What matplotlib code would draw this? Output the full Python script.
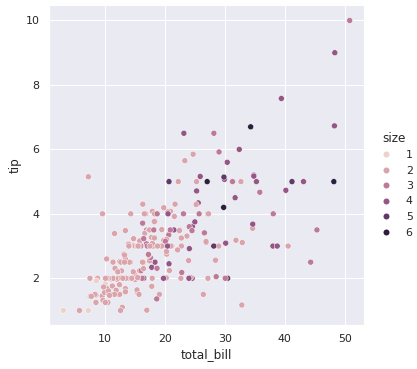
import matplotlib
matplotlib.use("Agg")
import matplotlib.pyplot as plt
import pandas as pd
import seaborn as sns

# tips data: total bill, tip and party size
total_bill = [
    16.99, 10.34, 21.01, 23.68, 24.59, 25.29, 8.77, 26.88, 15.04, 14.78,
    10.27, 35.26, 15.42, 18.43, 14.83, 21.58, 10.33, 16.29, 16.97, 20.65,
    17.92, 20.29, 15.77, 39.42, 19.82, 17.81, 13.37, 12.69, 21.70, 19.65,
    9.55, 18.35, 15.06, 20.69, 17.78, 24.06, 16.31, 16.93, 18.69, 31.27,
    16.04, 17.46, 13.94, 9.68, 30.40, 18.29, 22.23, 32.40, 28.55, 18.04,
    12.54, 10.29, 34.81, 9.94, 25.56, 19.49, 38.01, 26.41, 11.24, 48.27,
    20.29, 13.81, 11.02, 18.29, 17.59, 20.08, 16.45, 3.07, 20.23, 15.01,
    12.02, 17.07, 26.86, 25.28, 14.73, 10.51, 17.92, 27.20, 22.76, 17.29,
    19.44, 16.66, 10.07, 32.68, 15.98, 34.83, 13.03, 18.28, 24.71, 21.16,
    28.97, 22.49, 5.75, 16.32, 22.75, 40.17, 27.28, 12.03, 21.01, 12.46,
    11.35, 15.38, 44.30, 22.42, 20.92, 15.36, 20.49, 25.21, 18.24, 14.31,
    14.00, 7.25, 38.07, 23.95, 25.71, 17.31, 29.93, 10.65, 12.43, 24.08,
    11.69, 13.42, 14.26, 15.95, 12.48, 29.80, 8.52, 14.52, 11.38, 22.82,
    19.08, 20.27, 11.17, 12.26, 18.26, 8.51, 10.33, 14.15, 16.00, 13.16,
    17.47, 34.30, 41.19, 27.05, 16.43, 8.35, 18.64, 11.87, 9.78, 7.51,
    14.07, 13.13, 17.26, 24.55, 19.77, 29.85, 48.17, 25.00, 13.39, 16.49,
    21.50, 12.66, 16.21, 13.81, 17.51, 24.52, 20.76, 31.71, 10.59, 10.63,
    50.81, 15.81, 7.25, 31.85, 16.82, 32.90, 17.89, 14.48, 9.60, 34.63,
    34.65, 23.33, 45.35, 23.17, 40.55, 20.69, 20.90, 30.46, 18.15, 23.10,
    15.69, 19.81, 28.44, 15.48, 16.58, 7.56, 10.34, 43.11, 13.00, 13.51,
    18.71, 12.74, 13.00, 16.40, 20.53, 16.47, 26.59, 38.73, 24.27, 12.76,
    30.06, 25.89, 48.33, 13.27, 28.17, 12.90, 28.15, 11.59, 7.74, 30.14,
    12.16, 13.42, 8.58, 15.98, 13.42, 16.27, 10.09, 20.45, 13.28, 22.12,
    24.01, 15.69, 11.61, 10.77, 15.53, 10.07, 12.60, 32.83, 35.83, 29.03,
    27.18, 22.67, 17.82, 18.78,
]
tip = [
    1.01, 1.66, 3.50, 3.31, 3.61, 4.71, 2.00, 3.12, 1.96, 3.23,
    1.71, 5.00, 1.57, 3.00, 3.02, 3.92, 1.67, 3.71, 3.50, 3.35,
    4.08, 2.75, 2.23, 7.58, 3.18, 2.34, 2.00, 2.00, 4.30, 3.00,
    1.45, 2.50, 3.00, 2.45, 3.27, 3.60, 2.00, 3.07, 2.31, 5.00,
    2.24, 2.54, 3.06, 1.32, 5.60, 3.00, 5.00, 6.00, 2.05, 3.00,
    2.50, 2.60, 5.20, 1.56, 4.34, 3.51, 3.00, 1.50, 1.76, 6.73,
    3.21, 2.00, 1.98, 3.76, 2.64, 3.15, 2.47, 1.00, 2.01, 2.09,
    1.97, 3.00, 3.14, 5.00, 2.20, 1.25, 3.08, 4.00, 3.00, 2.71,
    3.00, 3.40, 1.83, 5.00, 2.03, 5.17, 2.00, 4.00, 5.85, 3.00,
    3.00, 3.50, 1.00, 4.30, 3.25, 4.73, 4.00, 1.50, 3.00, 1.50,
    2.50, 3.00, 2.50, 3.48, 4.08, 1.64, 4.06, 4.29, 3.76, 4.00,
    3.00, 1.00, 4.00, 2.55, 4.00, 3.50, 5.07, 1.50, 1.80, 2.92,
    2.31, 1.68, 2.50, 2.00, 2.52, 4.20, 1.48, 2.00, 2.00, 2.18,
    1.50, 2.83, 1.50, 2.00, 3.25, 1.25, 2.00, 2.00, 2.00, 2.75,
    3.50, 6.70, 5.00, 5.00, 2.30, 1.50, 1.36, 1.63, 1.73, 2.00,
    2.50, 2.00, 2.74, 2.00, 2.00, 5.14, 5.00, 3.75, 2.61, 2.00,
    3.50, 2.50, 2.00, 2.00, 3.00, 3.48, 2.24, 4.50, 1.61, 2.00,
    10.00, 3.16, 5.15, 3.18, 4.00, 3.11, 2.00, 2.00, 4.00, 3.55,
    3.68, 5.65, 3.50, 6.50, 3.00, 5.00, 3.50, 2.00, 3.50, 4.00,
    1.50, 4.19, 2.56, 2.02, 4.00, 1.44, 2.00, 5.00, 2.00, 2.00,
    4.00, 2.01, 2.00, 2.50, 4.00, 3.23, 3.41, 3.00, 2.03, 2.23,
    2.00, 5.16, 9.00, 2.50, 6.50, 1.10, 3.00, 1.50, 1.44, 3.09,
    2.20, 3.48, 1.92, 3.00, 1.58, 2.50, 2.00, 3.00, 2.72, 2.88,
    2.00, 3.00, 3.39, 1.47, 3.00, 1.25, 1.00, 1.17, 4.67, 5.92,
    2.00, 2.00, 1.75, 3.00,
]
party_size = [
    2, 3, 3, 2, 4, 4, 2, 4, 2, 2, 2, 4, 2, 4, 2, 2, 3, 3, 3, 3,
    2, 2, 2, 4, 2, 4, 2, 2, 2, 2, 2, 4, 2, 4, 2, 3, 3, 3, 3, 3,
    3, 2, 2, 2, 4, 2, 2, 4, 3, 2, 2, 2, 4, 2, 4, 2, 4, 2, 2, 4,
    2, 2, 2, 4, 3, 3, 2, 1, 2, 2, 2, 3, 2, 2, 2, 2, 2, 4, 2, 2,
    2, 2, 1, 2, 2, 4, 2, 2, 2, 2, 2, 2, 2, 2, 2, 4, 2, 2, 2, 2,
    2, 2, 3, 2, 2, 2, 2, 2, 2, 2, 2, 1, 3, 2, 3, 2, 4, 2, 2, 4,
    2, 2, 2, 2, 2, 6, 2, 2, 2, 3, 2, 2, 2, 2, 2, 2, 2, 2, 2, 2,
    2, 6, 5, 6, 2, 2, 3, 2, 2, 2, 2, 2, 3, 4, 4, 5, 6, 4, 2, 4,
    4, 2, 3, 2, 2, 3, 2, 4, 2, 2, 3, 2, 2, 2, 2, 2, 2, 2, 2, 2,
    4, 2, 3, 4, 2, 5, 3, 5, 3, 3, 2, 2, 2, 2, 2, 2, 2, 4, 2, 2,
    3, 2, 2, 2, 4, 3, 3, 4, 2, 2, 3, 4, 4, 2, 3, 2, 5, 2, 2, 4,
    2, 2, 1, 3, 2, 2, 2, 4, 2, 2, 4, 3, 2, 2, 2, 2, 2, 2, 3, 3,
    2, 2, 2, 2,
]

tips = pd.DataFrame({"total_bill": total_bill, "tip": tip, "size": party_size})

sns.set_theme(style="darkgrid")
g = sns.relplot(data=tips, x="total_bill", y="tip", hue="size", height=5)

fig = g.figure
fig.set_size_inches(417 / 72, 369 / 72)
fig.subplots_adjust(left=49 / 417, right=364 / 417, top=1 - 6 / 369, bottom=1 - 325 / 369)
sns.move_legend(g, "center left", bbox_to_anchor=(365 / 417, 0.5), frameon=False)

fig.savefig("out.png", dpi=72)
